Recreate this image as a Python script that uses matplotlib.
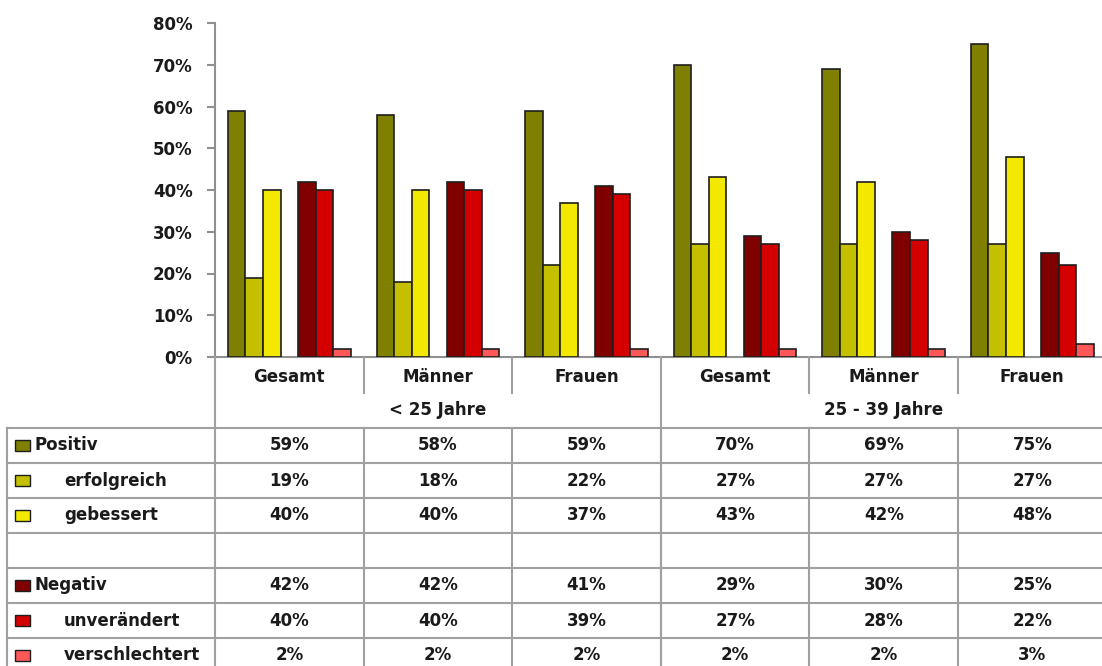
import numpy as np
import matplotlib
matplotlib.use("Agg")
import matplotlib.pyplot as plt
from matplotlib.patches import Rectangle

# data
categories = ["Gesamt", "Männer", "Frauen", "Gesamt", "Männer", "Frauen"]
age_groups = ["< 25 Jahre", "25 - 39 Jahre"]
series_names = ["Positiv", "erfolgreich", "gebessert", None,
                "Negativ", "unverändert", "verschlechtert"]
positiv = [59, 58, 59, 70, 69, 75]
erfolgreich = [19, 18, 22, 27, 27, 27]
gebessert = [40, 40, 37, 43, 42, 48]
negativ = [42, 42, 41, 29, 30, 25]
unveraendert = [40, 40, 39, 27, 28, 22]
verschlechtert = [2, 2, 2, 2, 2, 3]
y_ticks = [0, 10, 20, 30, 40, 50, 60, 70, 80]

series = [positiv, erfolgreich, gebessert, None, negativ, unveraendert, verschlechtert]
colors = ["#808000", "#C4C000", "#F2E800", None, "#800000", "#D40000", "#FF5858"]
indent = [False, True, True, None, False, True, True]

W, H = 1102, 666
x0, col_w = 215, 148.6        # left edge of value columns and column width (px)
y_axis0, y_axis_top = 357, 23  # pixel rows of 0% and 80%
row_top, row_h = 428, 35
grid_c = "#a0a0a0"
font = dict(family="DejaVu Sans", fontweight="bold", fontsize=12, color="#1a1a1a")

fig = plt.figure(figsize=(W / 100, H / 100), dpi=100)

# bar chart
ax = fig.add_axes([x0 / W, (H - y_axis0) / H, 6 * col_w / W, (y_axis0 - y_axis_top) / H])
n = len(categories)
x = np.arange(n)
bw = 0.118
for k, (vals, c) in enumerate(zip(series, colors)):
    if vals is None:
        continue
    ax.bar(x + (k - 3) * bw, vals, width=bw, color=c, edgecolor="#1e1e1e",
           linewidth=1.2, zorder=3)
ax.set_xlim(-0.5, n - 0.5)
ax.set_ylim(0, 80)
ax.set_yticks(y_ticks)
ax.set_yticklabels([f"{t}%" for t in y_ticks], **font)
ax.set_xticks([])
for s in ["top", "right"]:
    ax.spines[s].set_visible(False)
for s in ["left", "bottom"]:
    ax.spines[s].set_color("#909090")
    ax.spines[s].set_linewidth(1.5)
ax.tick_params(axis="y", length=6, width=1.5, color="#909090", pad=10)

# data table in pixel coordinates
tab = fig.add_axes([0, 0, 1, 1])
tab.set_xlim(0, W)
tab.set_ylim(H, 0)
tab.axis("off")

def col_x(i):
    return x0 + i * col_w

bottom = H + 10
# vertical lines
tab.plot([x0, x0], [y_axis0, bottom], color=grid_c, lw=1.5)
for i in range(1, n):
    tab.plot([col_x(i), col_x(i)], [y_axis0, 393 if i != 3 else bottom], color=grid_c, lw=1.5)
    tab.plot([col_x(i), col_x(i)], [row_top, bottom], color=grid_c, lw=1.5)
tab.plot([7, 7], [row_top, bottom], color=grid_c, lw=1.5)

# header labels
for i, cat in enumerate(categories):
    tab.text(col_x(i) + col_w / 2, 377, cat, ha="center", va="center", **font)
for g, lab in enumerate(age_groups):
    tab.text(col_x(3 * g) + 1.5 * col_w, 410, lab, ha="center", va="center", **font)

# rows
for r, (name, vals, c, ind) in enumerate(zip(series_names, series, colors, indent)):
    yt = row_top + r * row_h
    tab.plot([7, W], [yt, yt], color=grid_c, lw=1.5)
    if name is None:
        continue
    yc = yt + row_h / 2
    tab.add_patch(Rectangle((15, yc - 5.5), 15, 11, facecolor=c,
                            edgecolor="#1e1e1e", lw=1.0))
    tab.text(64 if ind else 34, yc, name, ha="left", va="center", **font)
    for i, v in enumerate(vals):
        tab.text(col_x(i) + col_w / 2, yc, f"{v}%", ha="center", va="center", **font)

fig.savefig("out.png", dpi=100)
